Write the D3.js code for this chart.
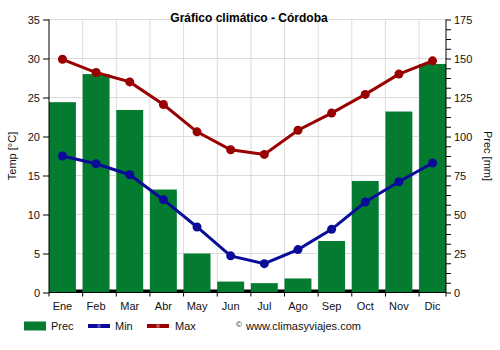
<!DOCTYPE html>
<html>
<head>
<meta charset="utf-8">
<script src="https://cdn.jsdelivr.net/npm/d3@7"></script>
<style>
  body { margin: 0; background: #fff; }
  svg text { font-family: "Liberation Sans", Arial, sans-serif; }
</style>
</head>
<body>
<svg id="chart" width="500" height="350"></svg>
<script>
const months = ["Ene","Feb","Mar","Abr","May","Jun","Jul","Ago","Sep","Oct","Nov","Dic"];
const prec = [122, 140, 117, 66, 25, 7, 6, 9, 33, 71.5, 116, 146.5];
const tmin = [17.5, 16.5, 15.1, 11.9, 8.4, 4.7, 3.7, 5.5, 8.1, 11.6, 14.2, 16.6];
const tmax = [29.9, 28.2, 27.0, 24.1, 20.6, 18.3, 17.7, 20.8, 23.0, 25.4, 28.0, 29.7];
const tempTicks = [0, 5, 10, 15, 20, 25, 30, 35];
const precTicks = [0, 25, 50, 75, 100, 125, 150, 175];

const colPrec = "#037c30", colMin = "#0b0b99", colMax = "#990000";
const svg = d3.select("#chart");
const L = 49, R = 446, T = 19.5, B = 292.5;

const x = d3.scaleBand().domain(months).range([L, R]).paddingInner(0.2).paddingOuter(0);
const yT = d3.scaleLinear().domain([0, 35]).range([B, T]);
const yP = d3.scaleLinear().domain([0, 175]).range([B, T]);

// grid
const g = svg.append("g");
g.selectAll("line.h").data(tempTicks.filter(d => d > 0)).enter().append("line")
  .attr("x1", L).attr("x2", R).attr("y1", d => yT(d)).attr("y2", d => yT(d))
  .attr("stroke", "#dcdcdc").attr("stroke-width", 1);
g.selectAll("line.v").data(months.slice(1)).enter().append("line")
  .attr("x1", d => x(d) - x.step()*0.1 + x.step()*0.1).attr("x2", d => x(d))
  .attr("y1", T).attr("y2", B)
  .attr("stroke", "#dcdcdc").attr("stroke-width", 1);

// thick base line
svg.append("line").attr("x1", L).attr("x2", R).attr("y1", B - 1.5).attr("y2", B - 1.5)
  .attr("stroke", "#000").attr("stroke-width", 3);

// bars
svg.selectAll("rect.bar").data(prec).enter().append("rect")
  .attr("x", (d, i) => x(months[i])).attr("width", x.bandwidth())
  .attr("y", d => yP(d)).attr("height", d => B - yP(d))
  .attr("fill", colPrec);

// lines
const lineGen = d3.line().x((d, i) => x(months[i]) + x.bandwidth()/2).y(d => yT(d));
[[tmin, colMin], [tmax, colMax]].forEach(([data, col]) => {
  svg.append("path").attr("d", lineGen(data)).attr("fill", "none")
    .attr("stroke", col).attr("stroke-width", 3);
  svg.selectAll(null).data(data).enter().append("circle")
    .attr("cx", (d, i) => x(months[i]) + x.bandwidth()/2).attr("cy", d => yT(d))
    .attr("r", 4.5).attr("fill", col);
});

// axes
const leftAxis = d3.axisLeft(yT).tickValues(tempTicks).tickSize(6).tickPadding(3);
const gl = svg.append("g").attr("transform", `translate(${L},0)`).call(leftAxis);
const rightAxis = d3.axisRight(yP).tickValues(d3.range(0, 176, 6.25)).tickSize(5).tickPadding(3)
  .tickFormat(d => precTicks.includes(d) ? d : "");
const gr = svg.append("g").attr("transform", `translate(${R},0)`).call(rightAxis);
[gl, gr].forEach(a => {
  a.select(".domain").attr("stroke", "#000");
  a.selectAll(".tick line").attr("stroke", "#000");
  a.selectAll("text").attr("font-size", 11).attr("fill", "#111").attr("font-family", '"Liberation Sans", Arial, sans-serif');
});
gl.select(".domain").attr("d", `M0,${T}V${B}`);
gr.select(".domain").attr("d", `M0,${T}V${B}`);

// bottom axis
svg.append("line").attr("x1", L).attr("x2", R).attr("y1", B).attr("y2", B).attr("stroke", "#000");
svg.selectAll("line.bt").data(months).enter().append("line")
  .attr("x1", d => x(d) === L ? L : x(d)).attr("x2", d => x(d))
  .attr("y1", B).attr("y2", B + 4).attr("stroke", "#000");
svg.append("line").attr("x1", R).attr("x2", R).attr("y1", B).attr("y2", B + 4).attr("stroke", "#000");
svg.selectAll("text.mx").data(months).enter().append("text")
  .attr("x", d => x(d) + x.bandwidth()/2).attr("y", B + 17)
  .attr("text-anchor", "middle").attr("font-size", 11).attr("fill", "#111").text(d => d);

// title
svg.append("text").attr("x", 249).attr("y", 22).attr("text-anchor", "middle")
  .attr("font-size", 12).attr("font-weight", "bold").attr("fill", "#000")
  .text("Gráfico climático - Córdoba");

// axis titles
svg.append("text").attr("transform", `translate(16,${(T+B)/2}) rotate(-90)`)
  .attr("text-anchor", "middle").attr("font-size", 11).attr("fill", "#111").text("Temp [°C]");
svg.append("text").attr("transform", `translate(484,${(T+B)/2}) rotate(90)`)
  .attr("text-anchor", "middle").attr("font-size", 11).attr("fill", "#111").text("Prec [mm]");

// legend
const ly = 326;
svg.append("rect").attr("x", 24).attr("y", ly - 4.5).attr("width", 22).attr("height", 9).attr("fill", colPrec);
svg.append("text").attr("x", 51).attr("y", ly + 4).attr("font-size", 11).attr("fill", "#111").text("Prec");
svg.append("line").attr("x1", 88).attr("x2", 110).attr("y1", ly).attr("y2", ly).attr("stroke", colMin).attr("stroke-width", 4);
svg.append("circle").attr("cx", 99).attr("cy", ly).attr("r", 2).attr("fill", "#4d4dc4");
svg.append("text").attr("x", 115).attr("y", ly + 4).attr("font-size", 11).attr("fill", "#111").text("Min");
svg.append("line").attr("x1", 147).attr("x2", 169).attr("y1", ly).attr("y2", ly).attr("stroke", colMax).attr("stroke-width", 4);
svg.append("circle").attr("cx", 158).attr("cy", ly).attr("r", 2).attr("fill", "#c44d4d");
svg.append("text").attr("x", 175).attr("y", ly + 4).attr("font-size", 11).attr("fill", "#111").text("Max");
svg.append("text").attr("x", 236).attr("y", ly + 1).attr("font-size", 8).attr("fill", "#111").text("©");
svg.append("text").attr("x", 246).attr("y", ly + 4).attr("font-size", 11).attr("fill", "#111").text("www.climasyviajes.com");
</script>
</body>
</html>
